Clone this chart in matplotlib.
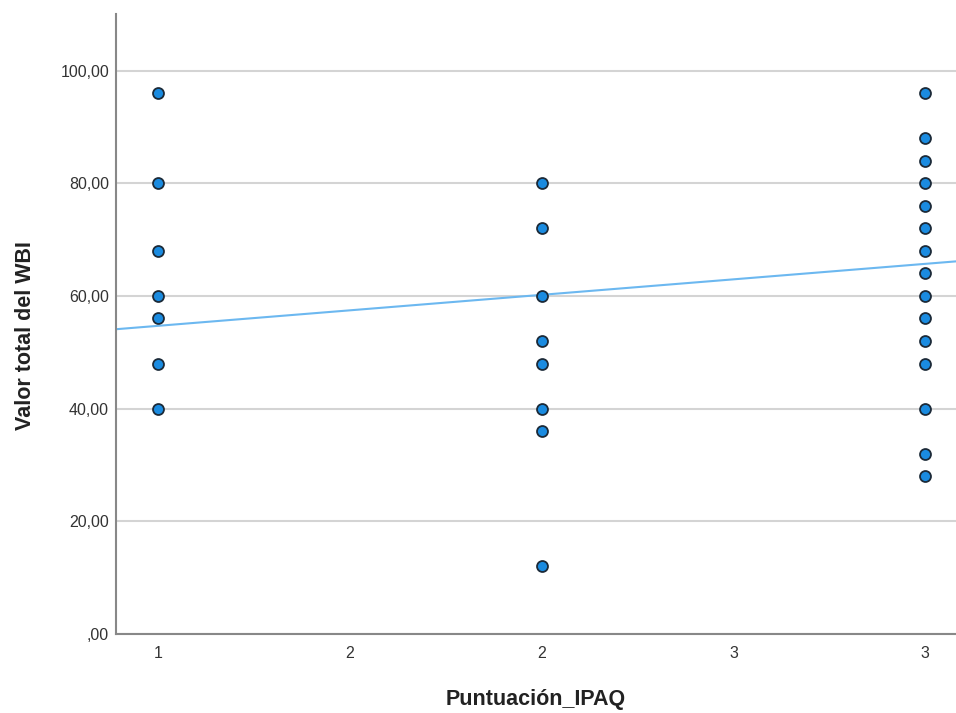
import numpy as np
import matplotlib.pyplot as plt

plt.rcParams['font.family'] = ['Liberation Sans', 'DejaVu Sans']

# puntuaciones por grupo IPAQ
ipaq_1 = [96, 80, 68, 60, 56, 48, 40]
ipaq_2 = [80, 72, 60, 52, 48, 40, 36, 12]
ipaq_3 = [96, 88, 84, 80, 76, 72, 68, 64, 60, 56, 52, 48, 40, 32, 28]

groups = [1, 2, 3]
values = [ipaq_1, ipaq_2, ipaq_3]

# recta de ajuste (SPSS)
fit_intercept = 49.2
fit_slope = 5.5

xticks = [1, 1.5, 2, 2.5, 3]
xticklabels = ['1', '2', '2', '3', '3']
yticks = [0, 20, 40, 60, 80, 100]
yticklabels = [',00', '20,00', '40,00', '60,00', '80,00', '100,00']

fig = plt.figure(figsize=(9.56, 7.13), dpi=100)
ax = fig.add_axes([0.1213, 0.1108, 0.8787, 0.8692])

xmin, xmax = 0.89, 3.08
ax.set_xlim(xmin, xmax)
ax.set_ylim(0, 110)

for g, v in zip(groups, values):
    ax.scatter([g] * len(v), v, s=62, color='#1a8be0', edgecolor='#1c2a38',
               linewidth=1.3, zorder=3)

xs = np.array([xmin, xmax])
ax.plot(xs, fit_intercept + fit_slope * xs, color='#6cb8f0', lw=1.5, zorder=2)

ax.set_yticks(yticks)
ax.set_yticklabels(yticklabels, fontsize=11.5, color='#333333')
ax.set_xticks(xticks)
ax.set_xticklabels(xticklabels, fontsize=11.5, color='#333333')
ax.tick_params(axis='y', length=0, pad=5)
ax.tick_params(axis='x', length=0, pad=9)

ax.grid(True, axis='y', color='#d4d4d4', lw=1.5, zorder=1)
for s in ['top', 'right']:
    ax.spines[s].set_visible(False)
for s in ['left', 'bottom']:
    ax.spines[s].set_color('#888888')
    ax.spines[s].set_linewidth(1.5)

ax.set_ylabel('Valor total del WBI', fontsize=15.5, fontweight='bold', color='#222222')
ax.yaxis.set_label_coords(-0.095, 0.482)
ax.set_xlabel('Puntuación_IPAQ', fontsize=15.5, fontweight='bold', color='#222222', labelpad=20)

fig.savefig('out.png', dpi=100)
